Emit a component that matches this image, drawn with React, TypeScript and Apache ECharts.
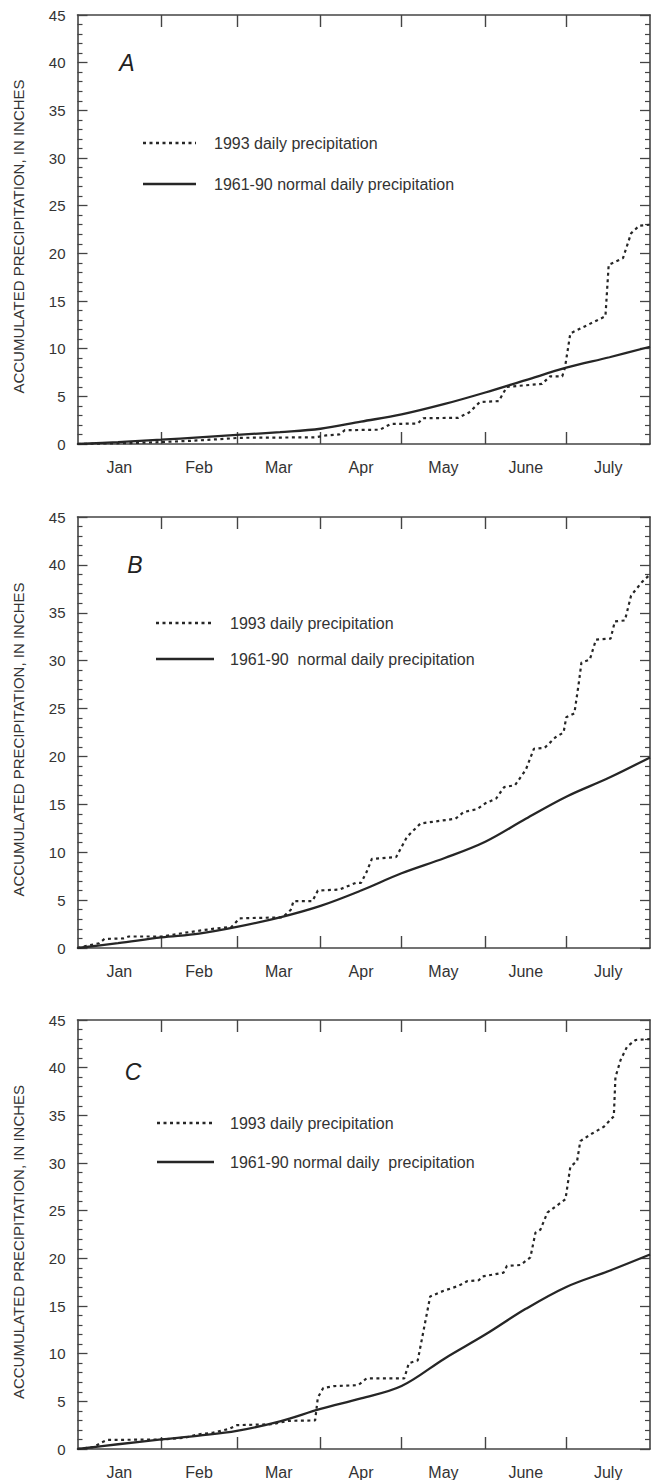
import React, { useEffect, useRef } from "react";
import * as echarts from "echarts";

// ---- axis definitions (day of year, Jan 1 = 0 ... Jul 31 end = 212)
const MONTHS = ["Jan", "Feb", "Mar", "Apr", "May", "June", "July"];
const MONTH_BOUNDS = [31, 59, 90, 120, 151, 181];
const MONTH_MIDS = [15.5, 45, 74.5, 105, 135.5, 166, 196.5];
const X_MAX = 212;
const Y_MAX = 45;
const Y_STEP = 5;

// ---- panel A
const A_1993: [number, number][] = [
  [0, 0], [10, 0.05], [20, 0.1], [31, 0.2], [43, 0.35], [55, 0.55], [60, 0.65], [88, 0.7],
  [92, 0.9], [97, 1.0], [99, 1.45], [112, 1.5], [116, 2.1], [126, 2.15], [128, 2.7],
  [141, 2.75], [145, 3.3], [149, 4.4], [156, 4.5], [159, 6.0], [172, 6.3], [175, 7.1],
  [179.5, 7.1], [180.5, 8.0], [182.5, 11.6], [195.5, 13.4], [196.7, 18.8], [202, 19.5],
  [205, 22.1], [208, 22.9], [212, 23.0],
];
const A_NORMAL: [number, number][] = [
  [0, 0], [15, 0.2], [31, 0.45], [45, 0.7], [59, 0.95], [75, 1.25], [90, 1.6], [105, 2.35],
  [120, 3.1], [136, 4.2], [151, 5.4], [166, 6.7], [181, 8.0], [197, 9.1], [212, 10.2],
];

// ---- panel B
const B_1993: [number, number][] = [
  [0, 0], [3, 0.2], [8, 0.5], [10, 0.95], [17, 1.0], [19, 1.2], [31, 1.2], [40, 1.6],
  [50, 2.0], [57, 2.2], [60, 3.1], [76, 3.2], [79, 4.0], [80, 4.9], [87, 4.9], [89, 6.0],
  [97, 6.1], [103, 6.8], [105, 6.8], [107, 7.9], [109, 9.3], [118, 9.5], [122, 11.6],
  [127, 13.0], [140, 13.5], [143, 14.2], [148, 14.5], [151, 15.1], [155, 15.6], [158, 16.8],
  [162, 17.0], [166, 18.6], [169, 20.8], [173, 20.9], [177, 22.0], [180, 22.5], [181, 24.1],
  [184, 24.5], [185.8, 28.0], [186.6, 29.8], [189.7, 30.1], [192, 32.2], [197.4, 32.3],
  [199, 34.1], [202.7, 34.2], [205, 36.8], [209, 38.2], [212, 39.0],
];
const B_NORMAL: [number, number][] = [
  [0, 0], [15, 0.5], [31, 1.1], [45, 1.5], [59, 2.2], [75, 3.2], [90, 4.4], [105, 6.0],
  [120, 7.8], [136, 9.4], [151, 11.1], [166, 13.5], [181, 15.8], [197, 17.8], [212, 19.9],
];

// ---- panel C
const C_1993: [number, number][] = [
  [0, 0], [6, 0.2], [9, 0.7], [11, 0.95], [31, 1.0], [40, 1.2], [45, 1.55], [50, 1.7],
  [56, 2.1], [59, 2.5], [72, 2.6], [78, 2.95], [88, 3.0], [89, 5.4], [91, 6.4], [95, 6.6],
  [104, 6.7], [107, 7.4], [121, 7.4], [122.7, 9.0], [126, 9.3], [128.2, 12.5], [130.6, 16.0],
  [135.6, 16.6], [141, 17.1], [144.3, 17.6], [148.6, 17.7], [150, 18.1], [157.8, 18.5],
  [159, 19.2], [164, 19.3], [167.7, 20.1], [169.6, 22.7], [171.4, 23.0], [174, 24.8],
  [180.7, 26.2], [182.5, 29.6], [185, 30.2], [186.2, 32.3], [190.6, 33.1], [194.9, 33.8],
  [198.6, 34.9], [199.2, 39.0], [201.1, 40.8], [203.5, 42.2], [206.6, 42.9], [212, 43.0],
];
const C_NORMAL: [number, number][] = [
  [0, 0], [15, 0.5], [31, 1.0], [45, 1.4], [59, 1.9], [75, 2.9], [90, 4.2], [105, 5.3],
  [120, 6.6], [136, 9.5], [151, 12.0], [166, 14.7], [181, 17.0], [197, 18.7], [212, 20.4],
];

const OBS_NAME = "1993 daily precipitation";
const NORMAL_NAMES = [
  "1961-90 normal daily precipitation",
  "1961-90  normal daily precipitation",
  "1961-90 normal daily  precipitation",
];
const Y_TITLE = "ACCUMULATED PRECIPITATION, IN INCHES";
const LETTERS = ["A", "B", "C"];

const FONT = '"Liberation Sans", Arial, Helvetica, sans-serif';
const INK = "#262626";
const AXIS = "#444";
const TEXT = "#333";

const PANELS = [
  { obs: A_1993, normal: A_NORMAL, top: 15, height: 429, letter: [127, 63], legY: [143, 184], legX: [143, 196, 214] },
  { obs: B_1993, normal: B_NORMAL, top: 517, height: 431, letter: [135, 565], legY: [623, 659], legX: [156, 214, 230] },
  { obs: C_1993, normal: C_NORMAL, top: 1020, height: 430, letter: [133, 1072], legY: [1123, 1162], legX: [157, 214, 230] },
];
const GRID_LEFT = 77.5;
const GRID_WIDTH = 572.5;

export default function App() {
  const ref = useRef<HTMLDivElement>(null);

  useEffect(() => {
    document.body.style.margin = "0";
    document.body.style.overflow = "hidden";
    if (!ref.current) return;
    const chart = echarts.init(ref.current, undefined, { renderer: "svg" });

    const grid: any[] = [];
    const xAxis: any[] = [];
    const yAxis: any[] = [];
    const series: any[] = [];
    const graphic: any[] = [];

    PANELS.forEach((p, i) => {
      grid.push({ left: GRID_LEFT, top: p.top, width: GRID_WIDTH, height: p.height, containLabel: false });
      const xBase = {
        gridIndex: i,
        type: "value",
        min: 0,
        max: X_MAX,
        axisLine: { show: true, onZero: false, lineStyle: { color: AXIS, width: 1.6 } },
        axisTick: { show: true, inside: true, length: 12, customValues: MONTH_BOUNDS, lineStyle: { color: AXIS, width: 1.4 } },
        splitLine: { show: false },
      };
      xAxis.push({
        ...xBase,
        position: "bottom",
        axisLabel: {
          show: true,
          customValues: MONTH_MIDS,
          formatter: (v: number) => {
            const k = MONTH_MIDS.indexOf(v);
            return k >= 0 ? MONTHS[k] : "";
          },
          margin: 15,
          fontSize: 16,
          color: TEXT,
          fontFamily: FONT,
        },
      });
      xAxis.push({ ...xBase, position: "top", axisLabel: { show: false } });

      const yBase = {
        gridIndex: i,
        type: "value",
        min: 0,
        max: Y_MAX,
        interval: Y_STEP,
        axisLine: { show: true, onZero: false, lineStyle: { color: AXIS, width: 1.6 } },
        axisTick: { show: true, inside: true, length: 10, lineStyle: { color: AXIS, width: 1.3 } },
        minorTick: { show: true, splitNumber: 5, length: 5, lineStyle: { color: AXIS, width: 1.2 } },
        splitLine: { show: false },
        minorSplitLine: { show: false },
      };
      yAxis.push({
        ...yBase,
        position: "left",
        axisLabel: { show: true, margin: 12, fontSize: 15, color: TEXT, fontFamily: FONT },
      });
      yAxis.push({ ...yBase, position: "right", axisLabel: { show: false } });

      series.push({
        name: OBS_NAME,
        type: "line",
        xAxisIndex: 2 * i,
        yAxisIndex: 2 * i,
        data: p.obs,
        symbol: "none",
        lineStyle: { color: INK, width: 2.2, type: [3, 3.5] },
        z: 3,
      });
      series.push({
        name: NORMAL_NAMES[i],
        type: "line",
        xAxisIndex: 2 * i,
        yAxisIndex: 2 * i,
        data: p.normal,
        symbol: "none",
        smooth: 0.35,
        lineStyle: { color: INK, width: 2.3, type: "solid" },
        z: 4,
      });

      // panel letter
      graphic.push({
        type: "text",
        x: p.letter[0],
        y: p.letter[1],
        style: {
          text: LETTERS[i],
          font: `italic 23px ${FONT}`,
          fill: "#222",
          textAlign: "center",
          textVerticalAlign: "middle",
          align: "center",
          verticalAlign: "middle",
        },
      });
      // legend
      graphic.push({
        type: "line",
        shape: { x1: p.legX[0], y1: p.legY[0], x2: p.legX[1], y2: p.legY[0] },
        style: { stroke: INK, lineWidth: 2.4, lineDash: [3, 3.5] },
      });
      graphic.push({
        type: "line",
        shape: { x1: p.legX[0], y1: p.legY[1], x2: p.legX[1], y2: p.legY[1] },
        style: { stroke: INK, lineWidth: 2.4 },
      });
      [OBS_NAME, NORMAL_NAMES[i]].forEach((t, k) => {
        graphic.push({
          type: "text",
          x: p.legX[2],
          y: p.legY[k],
          style: {
            text: t,
            font: `16px ${FONT}`,
            fill: TEXT,
            textAlign: "left",
            textVerticalAlign: "middle",
            align: "left",
            verticalAlign: "middle",
          },
        });
      });
      // y-axis title
      graphic.push({
        type: "text",
        x: 18,
        y: p.top + p.height / 2 + 7,
        rotation: Math.PI / 2,
        style: {
          text: Y_TITLE,
          font: `15px ${FONT}`,
          fill: TEXT,
          textAlign: "center",
          textVerticalAlign: "middle",
          align: "center",
          verticalAlign: "middle",
        },
      });
    });

    chart.setOption({
      animation: false,
      backgroundColor: "#fff",
      grid,
      xAxis,
      yAxis,
      series,
      graphic,
    });

    return () => chart.dispose();
  }, []);

  return <div ref={ref} style={{ width: 651, height: 1480 }} />;
}
